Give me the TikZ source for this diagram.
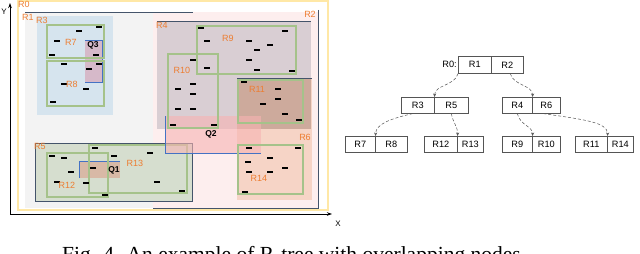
\documentclass[tikz,border=0pt]{standalone}
\usepackage{fontspec}
\setmainfont{Liberation Sans}
\newfontfamily\capfont{Liberation Serif}
\usetikzlibrary{arrows.meta}
\definecolor{lblor}{HTML}{ED7D31}
\definecolor{bord}{HTML}{44546A}
\definecolor{qbord}{HTML}{4472C4}
\definecolor{grn}{HTML}{A5C28A}
\definecolor{yel}{HTML}{FFE8A6}
\definecolor{r1fill}{HTML}{F3F3F3}
\definecolor{r2fill}{HTML}{FDEEEE}
\definecolor{r3fill}{HTML}{D6E4EE}
\definecolor{q3fill}{HTML}{D6B9C9}
\definecolor{r4fill}{HTML}{D9CED3}
\definecolor{r6fill}{HTML}{F6D4C6}
\definecolor{ovfill}{HTML}{CDAA9C}
\definecolor{r5fill}{HTML}{D6DECF}
\definecolor{q1fill}{HTML}{D8B9A6}
\definecolor{q2fill}{HTML}{F7B3B3}
\definecolor{treebord}{HTML}{555555}
\tikzset{
  rlabel/.style={text=lblor, inner sep=0, font=\fontsize{9}{10}\selectfont},
  qlabel/.style={text=black, inner sep=0, font=\bfseries\fontsize{8.5}{10}\selectfont},
  grnbox/.style={draw=grn, line width=1.1},
  bline/.style={draw=bord, line width=0.9},
  qline/.style={draw=qbord, line width=0.9},
  pt/.style={fill=black},
  axis/.style={draw=black, line width=0.8, -{Stealth[length=5pt,width=3.5pt]}},
  cell/.style={draw=treebord, line width=0.6, inner sep=0, anchor=north west,
    font=\fontsize{9.2}{10}\selectfont},
  tarrow/.style={draw=treebord, line width=0.5, densely dashed,
    -{Stealth[length=3.5pt,width=3pt]}},
}
\begin{document}
\begin{tikzpicture}[x=1pt,y=-1pt]
\useasboundingbox (0,0) rectangle (640,254);
\clip (0,0) rectangle (640,254);
\fill[white] (0,0) rectangle (640,254);

% R0
\draw[yel, line width=1.3] (18,1) rectangle (328,210);
% R1, R2
\fill[r1fill] (25,12) rectangle (193,208);
\fill[r2fill] (153,12) rectangle (318,208);
\draw[bline] (25,12) -- (193,12);
\draw[bline] (318,10) -- (318,208) -- (153,208);

% R3 with R7, R8, Q3
\fill[r3fill] (37,16) rectangle (113,115);
\fill[q3fill] (85,40) rectangle (102,82);
\draw[qline] (85,40) -- (102,40) -- (102,82) -- (85,82);
\draw[grnbox] (47,25) rectangle (104,58);
\draw[grnbox] (47,61) rectangle (104,106);

% R5 with R12, R13, Q1
\filldraw[fill=r5fill, bline] (35,143) rectangle (192,201);
\fill[q1fill] (79,161) rectangle (120,178);
\draw[qline] (79,178) -- (79,161) -- (120,161);
\draw[grnbox] (47,153) rectangle (108,197);
\draw[grnbox] (89,145) rectangle (187,193);

% R4, R6
\fill[r4fill] (157,21) rectangle (311,129);
\fill[r6fill] (237,129) rectangle (312,200);
\fill[ovfill] (237,78) rectangle (311,129);
\fill[r6fill] (311,78) rectangle (312,129);
\draw[bline] (157,21) -- (311,21);
\draw[bline] (237,78) -- (312,78);

% Q2
\fill[q2fill, opacity=0.6] (165,116) rectangle (261,153);
\draw[qline] (165,116) -- (165,153) -- (261,153);

% R9, R10, R11, R14
\draw[grnbox] (197,26) rectangle (296,74);
\draw[grnbox] (168,54) rectangle (218,128);
\draw[grnbox] (238,80) rectangle (303,123);
\draw[grnbox] (238,145) rectangle (303,194);

% data points
\foreach \x/\y in {79/31,99/27,57/41,52/55,96/55,64/64,99/64,89/69,64/84,86/89,53/102,
  201/28,285/31,207/41,249/41,270/45,257/50,249/60,193/60,207/68,257/70,292/71,
  193/84,178/89,193/94,178/109,193/109,173/125,214/125,244/82,278/89,278/99,
  263/104,285/114,299/120,
  249/148,298/148,270/158,248/162,285/168,249/172,270/172,245/192,
  52/156,64/158,95/148,114/156,150/153,71/172,93/168,57/182,86/183,157/182,105/195,182/191}
  \fill[pt] (\x-3,\y-1.4) rectangle (\x+3,\y+1.4);

% labels
\node[rlabel] (lR0) at (24,4) {R0};
\node[rlabel] (lR1) at (28,17) {R1};
\node[rlabel] (lR2) at (310,14) {R2};
\node[rlabel] (lR3) at (42,20) {R3};
\node[rlabel] (lR4) at (162,25) {R4};
\node[rlabel] (lR5) at (40,146) {R5};
\node[rlabel] (lR6) at (305,137) {R6};
\node[rlabel] (lR7) at (71,42) {R7};
\node[rlabel] (lR8) at (72,84) {R8};
\node[rlabel] (lR9) at (228,38) {R9};
\node[rlabel] (lR10) at (182,70) {R10};
\node[rlabel] (lR11) at (257,89) {R11};
\node[rlabel] (lR12) at (67,185) {R12};
\node[rlabel] (lR13) at (135,163) {R13};
\node[rlabel] (lR14) at (259,178) {R14};
\node[qlabel] (lQ1) at (114,170) {Q1};
\node[qlabel] (lQ2) at (211,134) {Q2};
\node[qlabel] (lQ3) at (93,45) {Q3};

% axes
\coordinate (O) at (10,214);
\coordinate (ytip) at (10,3);
\coordinate (xtip) at (332,214);
\draw[axis] (O) -- (ytip);
\draw[axis] (O) -- (xtip);
\node[inner sep=0, font=\fontsize{8}{10}\selectfont] (ylab) at (4,12) {Y};
\node[inner sep=0, font=\fontsize{8}{10}\selectfont] (xlab) at (338,224) {X};

% tree
\node[cell, minimum width=33, minimum height=17] (r1) at (458,56) {R1};
\node[cell, minimum width=32, minimum height=17] (r2) at (491,56) {R2};
\node[anchor=east, inner sep=1, font=\fontsize{9.2}{10}\selectfont] (r0) at (r1.west) {R0:};
\node[cell, minimum width=33, minimum height=16] (r3) at (401,97) {R3};
\node[cell, minimum width=34, minimum height=16] (r5) at (434,97) {R5};
\node[cell, minimum width=30, minimum height=16] (r4) at (502,97) {R4};
\node[cell, minimum width=28, minimum height=16] (r6) at (532,97) {R6};
\node[cell, minimum width=30, minimum height=16] (r7) at (345,136) {R7};
\node[cell, minimum width=32, minimum height=16] (r8) at (375,136) {R8};
\node[cell, minimum width=33, minimum height=16] (r12) at (424,136) {R12};
\node[cell, minimum width=26, minimum height=16] (r13) at (457,136) {R13};
\node[cell, minimum width=30, minimum height=16] (r9) at (502,136) {R9};
\node[cell, minimum width=28, minimum height=16] (r10) at (532,136) {R10};
\node[cell, minimum width=32, minimum height=16] (r11) at (575,136) {R11};
\node[cell, minimum width=26, minimum height=16] (r14) at (607,136) {R14};

\draw[tarrow] (r1.south west) .. controls +(-3,12) and +(0,-12) .. (r3.north east);
\draw[tarrow] ([xshift=3pt]r2.south) .. controls +(3,12) and +(0,-12) .. (r4.north east);
\draw[tarrow] ([xshift=-5pt]r3.south) .. controls +(-22,5) and +(0,-12) .. (r7.north east);
\draw[tarrow] (r5.south) .. controls +(2,10) and +(0,-10) .. (r12.north east);
\draw[tarrow] (r4.south) .. controls +(3,12) and +(0,-10) .. (r9.north east);
\draw[tarrow] ([xshift=-3pt]r6.south) .. controls +(40,6) and +(0,-14) .. (r11.north east);

% caption (cut off at the bottom, as in the reference)
\node[anchor=north west, inner sep=0, font=\capfont\fontsize{21.5}{24}\selectfont] (cap) at (62,246)
  {Fig. 4. An example of R-tree with overlapping nodes};
\end{tikzpicture}
\end{document}
